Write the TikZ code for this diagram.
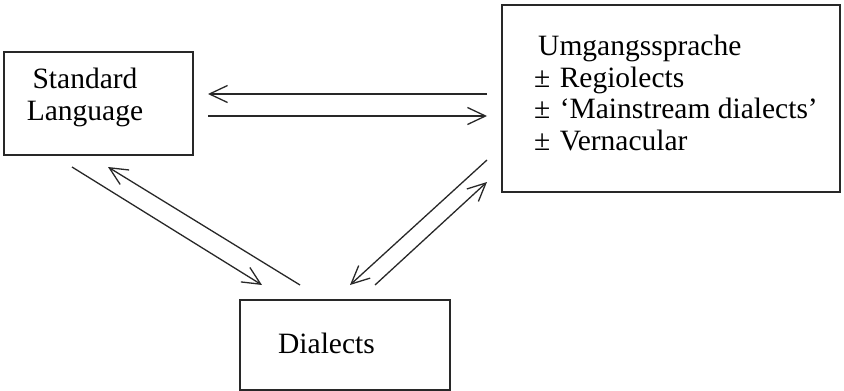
\documentclass[tikz,border=0pt]{standalone}
\usepackage{fontspec}
\setmainfont{Liberation Serif}
\usepackage{tikz}
\usetikzlibrary{arrows.meta}
\definecolor{inkgray}{RGB}{40,40,40}

\begin{document}
\begin{tikzpicture}[
    x=1pt, y=-1pt,
    every node/.style={font=\fontsize{29.5}{31.5}\selectfont, inner sep=0pt},
    frame/.style={draw=inkgray, line width=1.6pt, outer sep=0pt},
    txt/.style={text=black, align=center},
    flow/.style={-{Straight Barb[length=18pt,width=17pt]}, draw=inkgray, line width=1.3pt}
  ]
    \useasboundingbox (0,0) rectangle (844,391);

    % boxes
    \node[frame, minimum width=189pt, minimum height=103pt] (std) at (98.5,103.5) {};
    \node[frame, minimum width=338pt, minimum height=187pt] (umg) at (671,98.5) {};
    \node[frame, minimum width=210pt, minimum height=90pt] (dia) at (345,345) {};

    % texts
    \node[txt, anchor=north] (stdtext) at (85,68) {Standard\\Language};
    \node[txt, align=left, anchor=north west] (umgtext) at (534,35) {\kern4pt Umgangssprache\\± \kern2pt Regiolects\\± \kern2pt ‘Mainstream dialects’\\± \kern2pt Vernacular};
    \node[txt, anchor=base] (diatext) at (326.5,353) {Dialects};

    % standard <-> umgangssprache
    \draw[flow] ([xshift=-15pt,yshift=4.5pt]umg.west) -- ([xshift=15pt,yshift=9.5pt]std.east);
    \draw[flow] ([xshift=15pt,yshift=-12.5pt]std.east) -- ([xshift=-15pt,yshift=-17.5pt]umg.west);

    % standard <-> dialects
    \draw[flow] ([xshift=-26.5pt,yshift=-12pt]std.south) -- ([xshift=-83pt,yshift=15pt]dia.north);
    \draw[flow] ([xshift=-45pt,yshift=15pt]dia.north) -- ([xshift=9.5pt,yshift=-12pt]std.south);

    % umgangssprache <-> dialects
    \draw[flow] ([xshift=-15pt,yshift=32pt]umg.south west) -- ([xshift=5pt,yshift=15pt]dia.north);
    \draw[flow] ([xshift=30pt,yshift=15pt]dia.north) -- ([xshift=-15pt,yshift=10pt]umg.south west);
\end{tikzpicture}
\end{document}
